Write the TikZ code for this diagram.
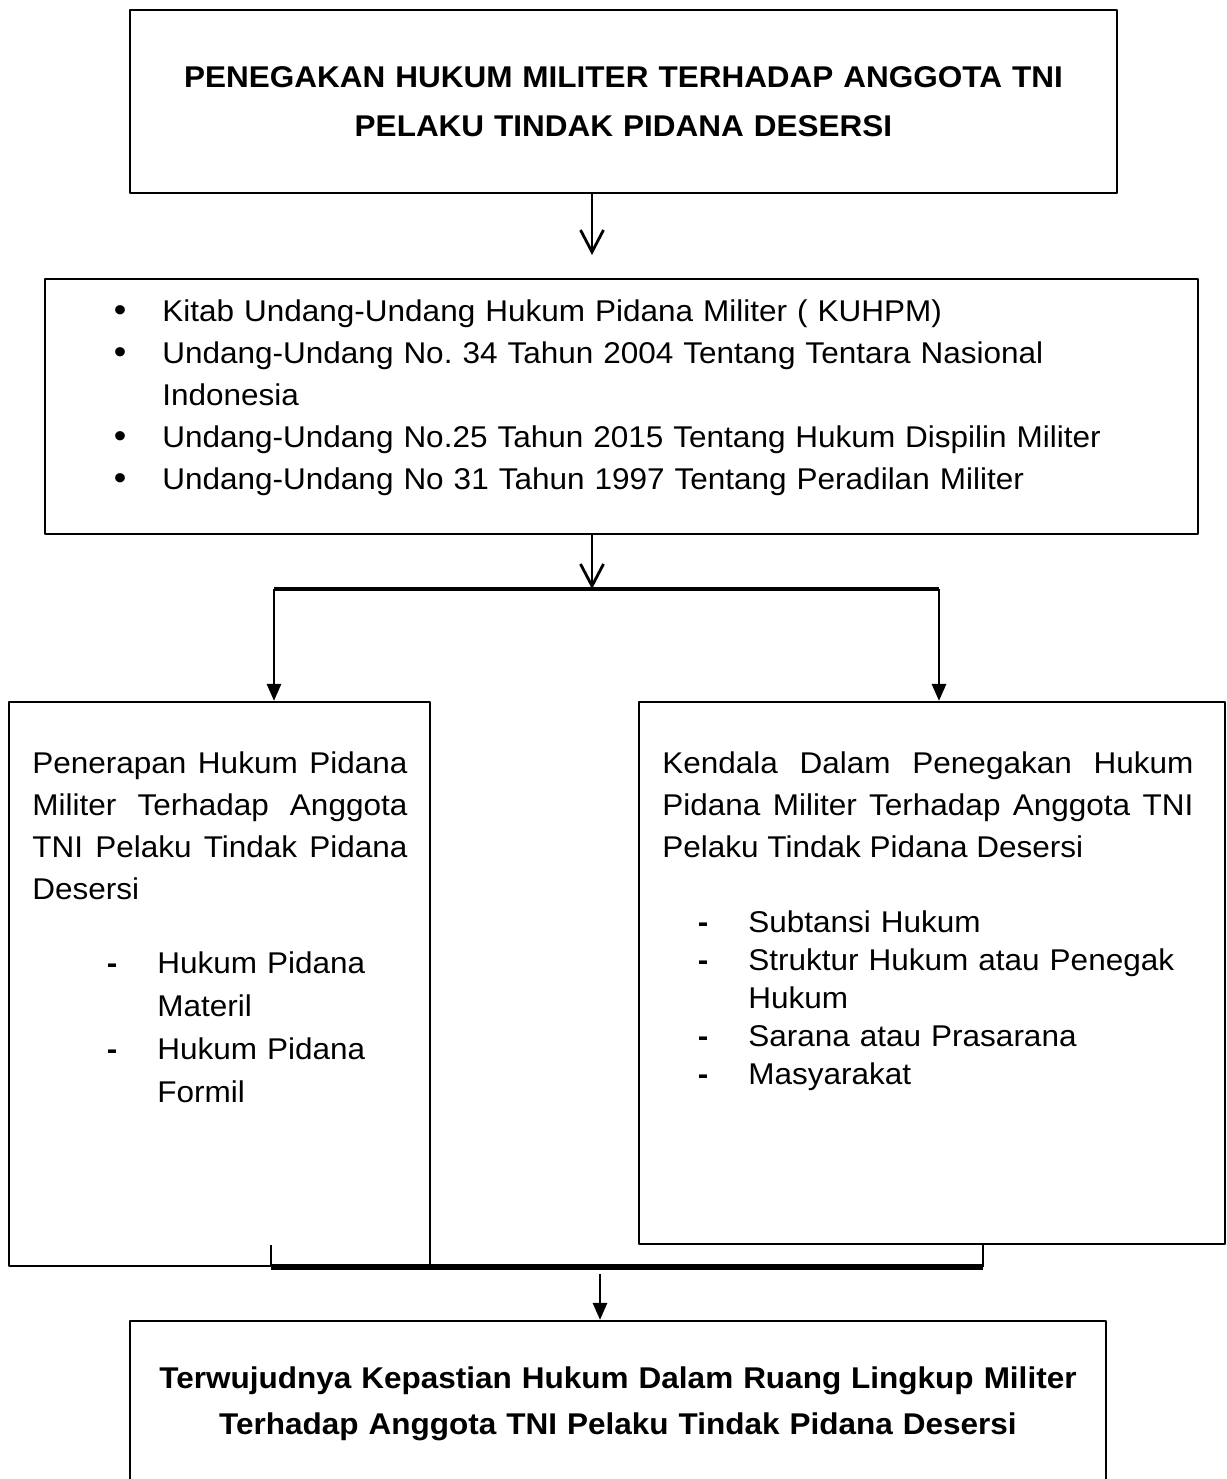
\documentclass[tikz,border=0pt]{standalone}
\usepackage{fontspec}
\setmainfont{Liberation Sans}[FakeStretch=1.05]
\usetikzlibrary{arrows.meta}
\newcommand{\bitem}{\leavevmode\llap{{\fontsize{17pt}{0pt}\selectfont\textbullet}\hspace{18pt}}}
\newcommand{\ditem}{\leavevmode\llap{\textbf{-}\hspace{20pt}}}

\begin{document}
\frenchspacing
\begin{tikzpicture}[x=0.5pt,y=-0.5pt,line join=bevel,
  font=\fontsize{15pt}{21pt}\selectfont,
  box/.style={draw,line width=1.1pt,inner sep=0pt},
  txt/.style={inner sep=0pt,anchor=base west,align=left},
  vtip/.style={-{Straight Barb[length=11pt,width=11.5pt]},line width=1.4pt},
  ftip/.style={-{Triangle[length=8.5pt,width=7pt]},line width=1.4pt},
  bar/.style={line width=1.8pt},
  ]
%%
\useasboundingbox (0,0) rectangle (1227,1479);
\node (node_title) at (623.5,101.5) [box,minimum width=493.5pt,minimum height=91.5pt,text width=480pt,align=center,font=\bfseries\fontsize{15pt}{24.5pt}\selectfont] {PENEGAKAN HUKUM MILITER TERHADAP ANGGOTA TNI\\PELAKU TINDAK PIDANA DESERSI};
%
\node (node_uu) at (621.5,406.5) [box,minimum width=576.5pt,minimum height=127.5pt] {};
\node (node_uu_txt) at (162,321) [txt,text width=515pt] {\bitem Kitab Undang-Undang Hukum Pidana Militer ( KUHPM)\\\bitem Undang-Undang No. 34 Tahun 2004 Tentang Tentara Nasional\\Indonesia\\\bitem Undang-Undang No.25 Tahun 2015 Tentang Hukum Dispilin Militer\\\bitem Undang-Undang No 31 Tahun 1997 Tentang Peradilan Militer};
%
\node (node_penerapan) at (219.5,984) [box,minimum width=210.5pt,minimum height=282pt] {};
\node (node_penerapan_txt) at (32,773) [txt,text width=187.5pt,align=justify] {Penerapan Hukum Pidana\linebreak Militer Terhadap Anggota\linebreak TNI Pelaku Tindak Pidana\linebreak Desersi};
\node (node_penerapan_lst) at (157,973) [txt,text width=125pt,font=\fontsize{15pt}{21.5pt}\selectfont] {\ditem Hukum Pidana\\Materil\\\ditem Hukum Pidana\\Formil};
%
\node (node_kendala) at (932,973) [box,minimum width=293pt,minimum height=271pt] {};
\node (node_kendala_txt) at (662,773) [txt,text width=265.5pt,align=justify] {Kendala Dalam Penegakan Hukum\linebreak Pidana Militer Terhadap Anggota TNI\linebreak Pelaku Tindak Pidana Desersi};
\node (node_kendala_lst) at (748,932) [txt,text width=230pt,font=\fontsize{15pt}{19pt}\selectfont] {\ditem Subtansi Hukum\\\ditem Struktur Hukum atau Penegak\\Hukum\\\ditem Sarana atau Prasarana\\\ditem Masyarakat};
%
\node (node_hasil) at (618,1404) [box,minimum width=488pt,minimum height=83pt,text width=470pt,align=center,font=\bfseries\fontsize{15pt}{23pt}\selectfont] {Terwujudnya Kepastian Hukum Dalam Ruang Lingkup Militer\\Terhadap Anggota TNI Pelaku Tindak Pidana Desersi};
%%
\coordinate (c_a) at (592,255);
\draw [vtip] (node_title.south -| c_a) -- (c_a);
\coordinate (c_b) at (592,589);
\draw [vtip] (node_uu.south -| c_b) -- (c_b);
\coordinate (c_l) at (274,589);
\coordinate (c_r) at (939,589);
\draw [bar] (c_l) -- (c_r);
\draw [ftip] (c_l) -- (node_penerapan.north -| c_l);
\draw [ftip] (c_r) -- (node_kendala.north -| c_r);
%
\coordinate (c_bl) at (271,1267);
\coordinate (c_br) at (983,1267);
\draw [line width=1.4pt] (node_kendala.south -| c_bl) -- (c_bl);
\draw [line width=1.4pt] (node_kendala.south -| c_br) -- (c_br);
\draw [line width=2.6pt] (c_bl) -- (c_br);
\coordinate (c_c) at (600,1274);
\draw [ftip] (c_c) -- (node_hasil.north -| c_c);
%
\end{tikzpicture}
\end{document}
